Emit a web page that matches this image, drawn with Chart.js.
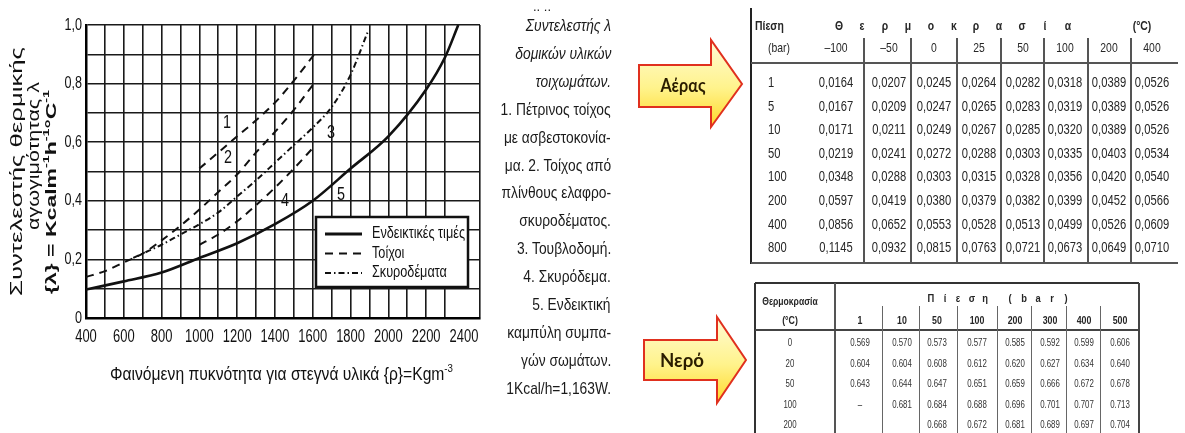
<!DOCTYPE html>
<html>
<head>
<meta charset="utf-8">
<script src="https://cdn.jsdelivr.net/npm/chart.js@4.4.1/dist/chart.umd.min.js"></script>
<style>
body{margin:0;background:#fff;width:1185px;height:433px;overflow:hidden;position:relative;font-family:"Liberation Sans",Arial,sans-serif;color:#1a1a1a}
#wrap{position:absolute;left:0;top:0;width:495px;height:400px}
.t{position:absolute;white-space:nowrap;line-height:1}
.ln{position:absolute;background:#3a3a3a}
svg{position:absolute;left:0;top:0}
</style>
</head>
<body>
<div id="wrap"><canvas id="chart" width="495" height="400"></canvas></div>
<svg width="1185" height="433">
  <defs>
    <linearGradient id="yel" x1="0" y1="0" x2="0" y2="1">
      <stop offset="0" stop-color="#fffbd6"/>
      <stop offset="0.55" stop-color="#fff38c"/>
      <stop offset="1" stop-color="#ffd829"/>
    </linearGradient>
  </defs>
  <path d="M639,65 L711,65 L711,40 L742,84 L711,127 L711,107 L639,107 Z" fill="url(#yel)" stroke="#e0301e" stroke-width="2"/>
  <text x="683" y="92" text-anchor="middle" font-family="Lato" font-weight="bold" font-size="19" fill="#2b1d00" textLength="45" lengthAdjust="spacingAndGlyphs">Αέρας</text>
  <path d="M644,340 L717,340 L717,317 L746,360 L717,403 L717,380 L644,380 Z" fill="url(#yel)" stroke="#e0301e" stroke-width="2"/>
  <text x="682" y="367" text-anchor="middle" font-family="Lato" font-weight="bold" font-size="19" fill="#2b1d00" textLength="44" lengthAdjust="spacingAndGlyphs">Νερό</text>
</svg>
<script>
/* ================= CHART DATA ================= */

const xTicks = [400, 600, 800, 1000, 1200, 1400, 1600, 1800, 2000, 2200, 2400];
const yTicks = [0, 0.2, 0.4, 0.6, 0.8, 1.0];

// 1. stone wall
const c1Rho = [1000, 1100, 1200, 1300, 1400, 1500, 1620];
const c1Lam = [0.51, 0.565, 0.62, 0.675, 0.735, 0.81, 0.91];
// 2. lightweight concrete blocks
const c2Rho = [400, 500, 600, 700, 800, 900, 1000, 1100, 1200, 1300, 1400, 1500, 1600];
const c2Lam = [0.14, 0.16, 0.19, 0.22, 0.265, 0.315, 0.37, 0.43, 0.49, 0.565, 0.635, 0.71, 0.795];
// 3. brickwork
const c3Rho = [650, 700, 800, 900, 1000, 1100, 1200, 1300, 1400, 1500, 1600, 1700, 1800, 1890];
const c3Lam = [0.205, 0.22, 0.25, 0.285, 0.32, 0.36, 0.415, 0.47, 0.53, 0.59, 0.65, 0.72, 0.83, 0.975];
// 4. concrete
const c4Rho = [1000, 1100, 1200, 1300, 1400, 1500, 1600];
const c4Lam = [0.25, 0.285, 0.33, 0.385, 0.445, 0.51, 0.58];
// 5. indicative curve
const c5Rho = [400, 600, 800, 1000, 1200, 1400, 1600, 1800, 2000, 2200, 2300, 2370];
const c5Lam = [0.097, 0.125, 0.155, 0.205, 0.255, 0.32, 0.40, 0.51, 0.62, 0.78, 0.89, 1.0];

const curveNames = ["1", "2", "3", "4", "5"];
const curveNameAt = [[1146, 0.665], [1151, 0.545], [1696, 0.63], [1453, 0.40], [1750, 0.42]];

const legendNames = ["Ενδεικτικές τιμές", "Τοίχοι", "Σκυροδέματα"];

/* ================= TABLE DATA ================= */

const airPressures = ["1", "5", "10", "50", "100", "200", "400", "800"];
const airTemps = ["–100", "–50", "0", "25", "50", "100", "200", "400"];
const airK = [
  [0.0164, 0.0207, 0.0245, 0.0264, 0.0282, 0.0318, 0.0389, 0.0526],
  [0.0167, 0.0209, 0.0247, 0.0265, 0.0283, 0.0319, 0.0389, 0.0526],
  [0.0171, 0.0211, 0.0249, 0.0267, 0.0285, 0.0320, 0.0389, 0.0526],
  [0.0219, 0.0241, 0.0272, 0.0288, 0.0303, 0.0335, 0.0403, 0.0534],
  [0.0348, 0.0288, 0.0303, 0.0315, 0.0328, 0.0356, 0.0420, 0.0540],
  [0.0597, 0.0419, 0.0380, 0.0379, 0.0382, 0.0399, 0.0452, 0.0566],
  [0.0856, 0.0652, 0.0553, 0.0528, 0.0513, 0.0499, 0.0526, 0.0609],
  [0.1145, 0.0932, 0.0815, 0.0763, 0.0721, 0.0673, 0.0649, 0.0710]
];

const waterTemps = ["0", "20", "50", "100", "200"];
const waterPressures = ["1", "10", "50", "100", "200", "300", "400", "500"];
const waterK = [
  [0.569, 0.570, 0.573, 0.577, 0.585, 0.592, 0.599, 0.606],
  [0.604, 0.604, 0.608, 0.612, 0.620, 0.627, 0.634, 0.640],
  [0.643, 0.644, 0.647, 0.651, 0.659, 0.666, 0.672, 0.678],
  ["–", 0.681, 0.684, 0.688, 0.696, 0.701, 0.707, 0.713],
  [null, null, 0.668, 0.672, 0.681, 0.689, 0.697, 0.704]
];

const notes = [
  "Συντελεστής λ", "δομικών υλικών", "τοιχωμάτων.",
  "1. Πέτρινος τοίχος", "με ασβεστοκονία-", "μα. 2. Τοίχος από",
  "πλίνθους ελαφρο-", "σκυροδέματος.", "3. Τουβλοδομή.", "4. Σκυρόδεμα.",
  "5. Ενδεικτική", "καμπύλη συμπα-", "γών σωμάτων.", "1Kcal/h=1,163W."
];

/* ================= HELPERS ================= */

const FONT = '"Liberation Sans", Arial, sans-serif';
const pts = (xs, ys) => xs.map((x, i) => ({ x: x, y: ys[i] }));
const dash = [8, 6];
const dashDot = [6, 3, 1.5, 3];

function font(size, weight){ return (weight || "") + " " + size + "px " + FONT; }

function txt(ctx, s, x, y, size, sx, align, weight){
  ctx.save();
  ctx.font = font(size, weight);
  ctx.translate(x, y);
  ctx.scale(sx, 1);
  ctx.textAlign = align || "left";
  ctx.textBaseline = "middle";
  ctx.fillText(s, 0, 0);
  ctx.restore();
}

// text made of [string, isSuperscript] parts, squeezed to a given width
function rich(ctx, segs, x, y, size, width, weight){
  ctx.save();
  let total = 0;
  segs.forEach(([s, sup]) => {
    ctx.font = font(sup ? size * 0.62 : size, weight);
    total += ctx.measureText(s).width;
  });
  ctx.translate(x, y);
  ctx.scale(width / total, 1);
  ctx.textBaseline = "middle";
  ctx.textAlign = "left";
  let cx = 0;
  segs.forEach(([s, sup]) => {
    ctx.font = font(sup ? size * 0.62 : size, weight);
    ctx.fillText(s, cx, sup ? -size * 0.36 : 0);
    cx += ctx.measureText(s).width;
  });
  ctx.restore();
}

function rotRich(ctx, segs, x, yStart, size, len, weight){
  ctx.save();
  ctx.translate(x, yStart);
  ctx.rotate(-Math.PI / 2);
  rich(ctx, segs, 0, 0, size, len, weight);
  ctx.restore();
}

/* ================= CHART ================= */

const decorPlugin = {
  id: "decor",
  afterDraw(chart){
    const ctx = chart.ctx;
    const xs = chart.scales.x, ys = chart.scales.y;
    ctx.fillStyle = "#111";

    // tick labels
    xTicks.forEach(v => txt(ctx, String(v), xs.getPixelForValue(v), 337, 18, 0.72, "center"));
    yTicks.forEach(v => {
      const s = v === 0 ? "0" : v.toFixed(1).replace(".", ",");
      txt(ctx, s, 82, ys.getPixelForValue(v), 17, 0.74, "right");
    });

    // axis titles
    rich(ctx, [["Φαινόμενη πυκνότητα για στεγνά υλικά {ρ}=Kgm"], ["-3", true]], 110, 375, 18, 343);
    rotRich(ctx, [["Συντελεστής θερμικής"]], 18, 296, 16, 249);
    rotRich(ctx, [["αγωγιμότητας λ"]], 35, 230, 16, 148);
    rotRich(ctx, [["{λ} = Kcalm"], ["-1", true], ["h"], ["-1", true], ["°C"], ["-1", true]], 52, 294, 15, 204, "bold");

    // curve numbers
    curveNames.forEach((n, i) => {
      const p = curveNameAt[i];
      txt(ctx, n, xs.getPixelForValue(p[0]), ys.getPixelForValue(p[1]), 18, 0.8, "center");
    });

    // legend box
    const bx = 316, by = 217, bw = 152, bh = 70;
    ctx.save();
    ctx.fillStyle = "#fff";
    ctx.fillRect(bx, by, bw, bh);
    ctx.lineWidth = 2.5;
    ctx.strokeStyle = "#111";
    ctx.strokeRect(bx, by, bw, bh);
    const styles = [[[], 3], [dash, 2], [dashDot, 2]];
    ctx.font = font(16);
    const lsx = 93 / ctx.measureText(legendNames[0]).width;
    legendNames.forEach((n, i) => {
      const y = by + 17 + i * 19.5;
      ctx.beginPath();
      ctx.setLineDash(styles[i][0]);
      ctx.lineWidth = styles[i][1];
      ctx.moveTo(bx + 9, y);
      ctx.lineTo(bx + 46, y);
      ctx.stroke();
      ctx.fillStyle = "#111";
      txt(ctx, n, bx + 56, y, 16, lsx, "left");
    });
    ctx.restore();
  }
};

const lineStyle = { borderColor: "#111", borderWidth: 2, pointRadius: 0, fill: false,
                    tension: 0.4, cubicInterpolationMode: "monotone" };

new Chart(document.getElementById("chart"), {
  type: "line",
  data: {
    datasets: [
      Object.assign({ label: "1", data: pts(c1Rho, c1Lam), borderDash: dash }, lineStyle),
      Object.assign({ label: "2", data: pts(c2Rho, c2Lam), borderDash: dash }, lineStyle),
      Object.assign({ label: "3", data: pts(c3Rho, c3Lam), borderDash: dashDot }, lineStyle),
      Object.assign({ label: "4", data: pts(c4Rho, c4Lam), borderDash: dash }, lineStyle),
      Object.assign({ label: "5", data: pts(c5Rho, c5Lam) }, lineStyle, { borderWidth: 2.6 })
    ]
  },
  options: {
    responsive: false,
    animation: false,
    layout: { padding: { top: 25, right: 15, left: 0, bottom: 0 } },
    plugins: { legend: { display: false }, tooltip: { enabled: false } },
    scales: {
      x: {
        type: "linear", min: 400, max: 2485,
        ticks: { display: false, stepSize: 100 },
        grid: { color: "#1a1a1a", lineWidth: 1.6, drawTicks: false },
        border: { color: "#000", width: 2.5 },
        afterFit(s){ s.height = 82; }
      },
      y: {
        min: 0, max: 1,
        ticks: { display: false, stepSize: 0.1 },
        grid: { color: "#1a1a1a", lineWidth: 1.6, drawTicks: false },
        border: { color: "#000", width: 2.5 },
        afterFit(s){ s.width = 86; }
      }
    }
  },
  plugins: [decorPlugin]
});

/* ================= TEXT BLOCK + TABLES ================= */

const mctx = document.createElement("canvas").getContext("2d");

function put(text, x, y, o){
  o = o || {};
  const d = document.createElement("div");
  d.className = "t";
  d.textContent = text;
  d.style.fontSize = (o.size || 13) + "px";
  if (o.bold) d.style.fontWeight = "bold";
  if (o.italic) d.style.fontStyle = "italic";
  if (o.color) d.style.color = o.color;
  const sx = o.sx || 1, al = o.align || "center";
  d.style.top = y + "px";
  if (al === "center"){
    d.style.left = x + "px";
    d.style.transform = "translate(-50%,-50%) scaleX(" + sx + ")";
  } else if (al === "left"){
    d.style.left = x + "px";
    d.style.transformOrigin = "0 50%";
    d.style.transform = "translateY(-50%) scaleX(" + sx + ")";
  } else {
    d.style.right = (1185 - x) + "px";
    d.style.transformOrigin = "100% 50%";
    d.style.transform = "translateY(-50%) scaleX(" + sx + ")";
  }
  document.body.appendChild(d);
}

function hline(x1, x2, y, w, c){
  const d = document.createElement("div");
  d.className = "ln";
  d.style.cssText += "left:" + x1 + "px;top:" + (y - w / 2) + "px;width:" + (x2 - x1) + "px;height:" + w + "px;" + (c ? "background:" + c : "");
  document.body.appendChild(d);
}
function vline(x, y1, y2, w, c){
  const d = document.createElement("div");
  d.className = "ln";
  d.style.cssText += "left:" + (x - w / 2) + "px;top:" + y1 + "px;width:" + w + "px;height:" + (y2 - y1) + "px;" + (c ? "background:" + c : "");
  document.body.appendChild(d);
}

// middle notes
mctx.font = font(17);
const nsx = 110 / mctx.measureText(notes[3]).width;
put(".. ..", 551, 6, { size: 13, align: "right" });
notes.forEach((n, i) => put(n, 611, 25 + i * 27.9, { size: 17, sx: nsx, align: "right", italic: i < 3 }));

// air table
const airCols = [836, 889, 934, 979, 1023, 1065, 1109, 1152];
const airSeps = [864, 911, 957, 1001, 1044, 1088, 1131];
const TC = "#262626";
vline(751, 8, 264, 2, "#222");
hline(751, 1178, 63, 1.3, "#555");
hline(751, 1178, 263, 1.8, "#555");
airSeps.forEach(x => vline(x, 38, 263, 1.2, "#555"));
put("Πίεση", 755, 25, { size: 13, bold: true, align: "left", sx: 0.8, color: TC });
put("(bar)", 768, 47, { size: 13, align: "left", sx: 0.8, color: TC });
const word = "Θερμοκρασία";
for (let i = 0; i < word.length; i++){
  put(word[i], 839 + i * (229 / (word.length - 1)), 25, { size: 13, bold: true, sx: 0.8, color: TC });
}
put("(°C)", 1142, 25, { size: 13, bold: true, sx: 0.8, color: TC });
airTemps.forEach((t, j) => put(t, airCols[j], 47, { size: 13, sx: 0.8, color: TC }));
airPressures.forEach((p, i) => {
  const y = 82 + i * 23.6;
  put(p, 768, y, { size: 14, align: "left", sx: 0.8, color: TC });
  airK[i].forEach((v, j) => put(v.toFixed(4).replace(".", ","), airCols[j], y, { size: 14, sx: 0.8, color: TC }));
});

// water table
const waterCols = [860, 902, 937, 977, 1015, 1050, 1084, 1120];
const waterSeps = [882, 919, 957, 997, 1031, 1066, 1100];
hline(755, 1139, 283, 1.8, "#333");
vline(755, 283, 433, 1.8, "#333");
vline(1139, 283, 433, 1.5, "#444");
vline(835, 283, 433, 1.2, "#555");
hline(755, 1139, 330, 1.5, "#444");
waterSeps.forEach(x => vline(x, 306, 433, 1, "#666"));
put("Θερμοκρασία", 790, 301, { size: 11, bold: true, sx: 0.78, color: TC });
put("(°C)", 790, 320, { size: 11, bold: true, sx: 0.8, color: TC });
const w2 = "Πίεση";
for (let i = 0; i < w2.length; i++) put(w2[i], 931 + i * 13.5, 298, { size: 11, bold: true, sx: 0.85, color: TC });
const w3 = "(bar)";
for (let i = 0; i < w3.length; i++) put(w3[i], 1010 + i * 14, 298, { size: 11, bold: true, sx: 0.85, color: TC });
waterPressures.forEach((p, j) => put(p, waterCols[j], 320, { size: 11, bold: true, sx: 0.8, color: TC }));
waterTemps.forEach((t, i) => {
  const y = 342 + i * 20.5;
  put(t, 790, y, { size: 10.5, sx: 0.75, color: "#333" });
  waterK[i].forEach((v, j) => {
    if (v === null) return;
    put(typeof v === "number" ? v.toFixed(3) : v, waterCols[j], y, { size: 10.5, sx: 0.75, color: "#333" });
  });
});
</script>
</body>
</html>
